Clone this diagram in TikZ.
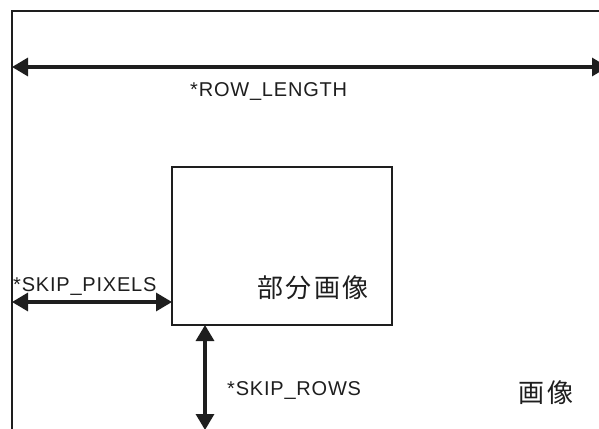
\documentclass[tikz,border=0pt]{standalone}
\usepackage{fontspec}
\setmainfont{Liberation Sans}
\newfontfamily\lblfont[LetterSpace=4]{Liberation Sans}
\newfontfamily\cjkfont[LetterSpace=8]{Noto Sans CJK JP}
\usetikzlibrary{arrows.meta}
\definecolor{ink}{HTML}{1E1E1E}
\begin{document}
\begin{tikzpicture}[x=1pt,y=-1pt,
  frame/.style={draw=ink, line width=1.5pt, inner sep=0pt, outer sep=0pt},
  dimline/.style={draw=ink, line width=3.2pt,
    {Triangle[length=16pt,width=18pt]}-{Triangle[length=16pt,width=18pt]}},
  lbl/.style={font=\lblfont\fontsize{20}{22}\selectfont, text=ink, inner sep=0pt},
  cjklbl/.style={font=\cjkfont\fontsize{26}{28}\selectfont, text=ink, inner sep=0pt}]
\useasboundingbox (0,0) rectangle (599,428);
\clip (0,0) rectangle (599,428);
% outer image (extends beyond the picture)
\node[frame, minimum width=596pt, minimum height=419pt, anchor=north west] (img) at (12,11) {};
% sub image
\node[frame, minimum width=220pt, minimum height=158pt, anchor=north west] (sub) at (172,167) {};
% coordinates
\coordinate (rl-l) at (img.west |- 0,67);
\coordinate (rl-r) at (img.east |- 0,67);
\coordinate (sp-l) at (img.west |- 0,302);
\coordinate (sp-r) at (sub.west |- 0,302);
\coordinate (sr-t) at (sub.south -| 205,0);
\coordinate (sr-b) at (img.south -| 205,0);
% dimension arrows
\draw[dimline] (rl-l) -- (rl-r);
\draw[dimline] (sp-l) -- (sp-r);
\draw[dimline] (sr-t) -- (sr-b);
% labels
\node[lbl, anchor=base west] (t-rl) at (190,96) {*ROW\_LENGTH};
\node[lbl, anchor=base west] (t-sp) at (13,291) {*SKIP\_PIXELS};
\node[lbl, anchor=base west] (t-sr) at (227,395) {*SKIP\_ROWS};
\node[cjklbl] (t-sub) at (313,288) {部分画像};
\node[cjklbl] (t-img) at (546,393) {画像};
\end{tikzpicture}
\end{document}
